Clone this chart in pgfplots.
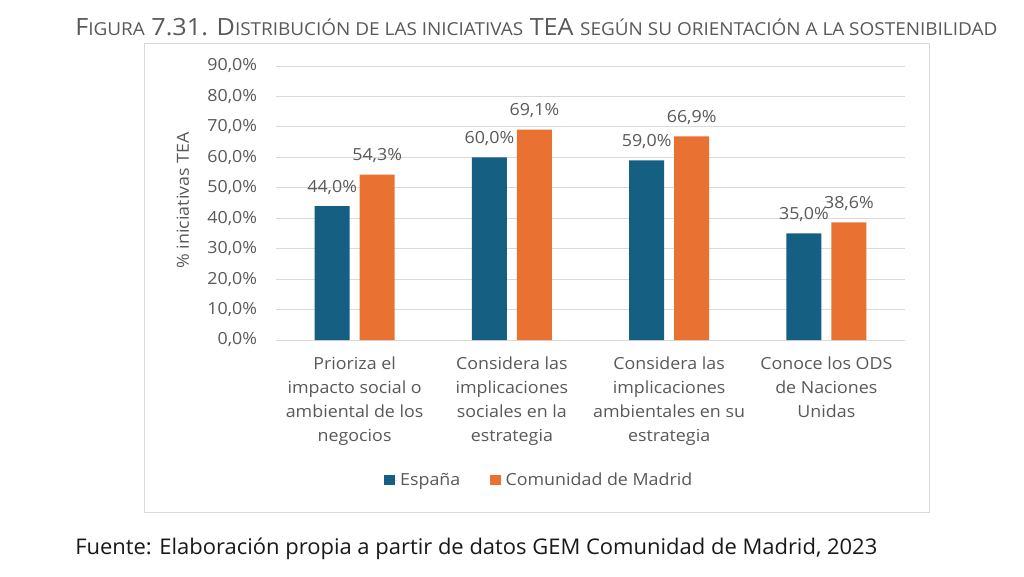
\documentclass[border=0pt]{standalone}
\usepackage{graphicx}
\usepackage{pgfplots}
\pgfplotsset{compat=1.18}
\usepackage{fontspec}
\setmainfont{Open Sans}[FakeStretch=1.07]
\newfontfamily\titlefont{Open Sans}
\definecolor{esp}{HTML}{156082}
\definecolor{mad}{HTML}{E97132}
\definecolor{txt}{HTML}{595959}
\definecolor{gridc}{HTML}{D9D9D9}
\newcommand{\cf}{\fontsize{12.5}{18}\selectfont}
\newcommand{\sm}{\fontsize{13.4}{15}\selectfont}
\begin{document}
\begin{tikzpicture}[x=1pt,y=1pt]
\useasboundingbox (0,0) rectangle (768,432);
\fill[white] (0,0) rectangle (768,432);
\draw[draw=gridc, line width=0.75pt] (108,48) rectangle (696.75,399);
\node[anchor=base west, inner sep=0pt, text=txt] at (56.25,405) {\resizebox{691.5pt}{\height}{\titlefont\fontsize{17.8}{20}\selectfont F{\sm IGURA} 7.31. D{\sm ISTRIBUCIÓN DE LAS INICIATIVAS} TEA {\sm SEGÚN SU ORIENTACIÓN A LA SOSTENIBILIDAD}}};
\node[anchor=base west, inner sep=0pt, text=black!90] at (56.25,16.5) {\resizebox{601.5pt}{\height}{\titlefont\fontsize{16.2}{18}\selectfont Fuente: Elaboración propia a partir de datos GEM Comunidad de Madrid, 2023}};
\begin{axis}[
  at={(207pt,177pt)}, anchor=south west,
  scale only axis, width=471.75pt, height=205.5pt,
  xmin=-0.5, xmax=3.5, ymin=0, ymax=90,
  ybar=7.5pt, bar width=26.25pt,
  axis line style={draw=none},
  major tick length=0pt,
  tick style={draw=none},
  ymajorgrids, grid style={draw=gridc, line width=0.75pt},
  ytick={0,10,...,90},
  yticklabels={{0,0\%},{10,0\%},{20,0\%},{30,0\%},{40,0\%},{50,0\%},{60,0\%},{70,0\%},{80,0\%},{90,0\%}},
  yticklabel style={font=\cf, text=txt, inner sep=0pt, xshift=-14pt},
  xtick={0,1,2,3},
  xticklabels={{Prioriza el\\impacto social o\\ambiental de los\\negocios},{Considera las\\implicaciones\\sociales en la\\estrategia},{Considera las\\implicaciones\\ambientales en su\\estrategia},{Conoce los ODS\\de Naciones\\Unidas}},
  xticklabel style={font=\cf, text=txt, align=center, anchor=north, inner sep=0pt, yshift=-12.5pt},
  ylabel={\% iniciativas TEA},
  ylabel style={font=\cf, text=txt, at={(axis description cs:-0.148,0.51)}, anchor=center},
  nodes near coords={\pgfmathprintnumber[fixed,fixed zerofill,precision=1,use comma,assume math mode=true]{\pgfplotspointmeta}\%},
  every node near coord/.append style={font=\cf, text=txt, anchor=base, inner sep=0pt, yshift=10.5pt},
  legend style={at={(axis description cs:0.419,-0.511)}, anchor=center, draw=none, fill=none, legend columns=2, font=\cf, text=txt, /tikz/every even column/.append style={column sep=20pt}},
  legend image code/.code={\fill[#1] (0pt,-4.1pt) rectangle (8.25pt,4.1pt); \path (0pt,0pt) -- (10pt,0pt);},
]
\addplot[fill=esp, draw=none] coordinates {(0,44.0) (1,60.0) (2,59.0) (3,35.0)};
\addplot[fill=mad, draw=none] coordinates {(0,54.3) (1,69.1) (2,66.9) (3,38.6)};
\legend{España, Comunidad de Madrid}
\end{axis}
\end{tikzpicture}
\end{document}
